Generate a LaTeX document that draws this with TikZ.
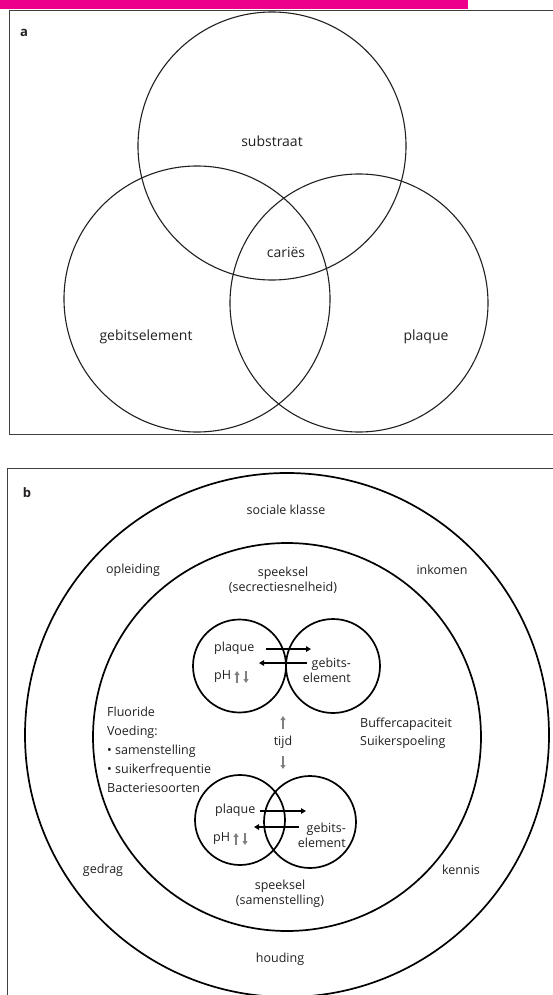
\documentclass[tikz,border=0pt]{standalone}
\usepackage{fontspec}
\setmainfont{Open Sans}
\usetikzlibrary{arrows.meta}
\definecolor{pinkbar}{RGB}{236,0,140}
\definecolor{ink}{RGB}{35,31,32}
\begin{document}
\begin{tikzpicture}[x=1pt,y=-1pt,
  frame/.style={draw=black!75, line width=0.9pt},
  venn/.style={draw=ink, line width=1.1pt, circle, inner sep=0pt, outer sep=0pt},
  ring/.style={draw=black, line width=1.7pt, circle, inner sep=0pt, outer sep=0pt},
  lbla/.style={font=\fontsize{14}{16}\selectfont, text=ink, inner sep=0pt},
  lblb/.style={font=\fontsize{12.5}{15}\selectfont, text=ink, inner sep=0pt, align=center},
  panel/.style={font=\bfseries\fontsize{13}{15}\selectfont, text=ink, inner sep=0pt},
  blk/.style={-{Triangle[length=5pt,width=5.5pt]}, line width=1.3pt, draw=black},
  gry/.style={-{Triangle[length=4pt,width=5pt]}, line width=1.3pt, draw=black!50},
]
\useasboundingbox (0,0) rectangle (553,995);
% top bar
\fill[pinkbar] (0,0) rectangle (468,9);
% ---------- panel a ----------
\draw[frame] (553,10) -- (9.5,10) -- (9.5,434) -- (553,434);
\node[panel] (la) at (24,33) {a};
\node[venn, minimum size=268pt] (csub) at (272,146) {};
\node[venn, minimum size=266pt] (cgeb) at (197,299) {};
\node[venn, minimum size=258pt] (cpla) at (359,303) {};
\node[lbla] (tsub) at (272,141) {substraat};
\node[lbla] (tcar) at (286,252) {cariës};
\node[lbla] (tgeb) at (146,337) {gebitselement};
\node[lbla] (tpla) at (426,337) {plaque};
% ---------- panel b ----------
\draw[frame] (553,468) -- (7.5,468) -- (7.5,995);
\node[panel] (lb) at (27,493) {b};
\node[ring, minimum size=524pt] (outer) at (287,735) {};
\node[ring, minimum size=388pt] (inner) at (287,737) {};
\node[lblb] (soc) at (286,510) {sociale klasse};
\node[lblb] (opl) at (133,570) {opleiding};
\node[lblb] (ink) at (442,570) {inkomen};
\node[lblb] (sp1) at (283,580) {speeksel\\(secrectiesnelheid)};
% upper pair
\node[ring, minimum size=93pt] (ul) at (239.5,666) {};
\node[ring, minimum size=94pt] (ur) at (333,666) {};
\node[lblb, anchor=west] (upl) at (214,648) {plaque};
\node[lblb, anchor=west] (uph) at (214,677) {pH};
\node[lblb, anchor=east, align=right] (uge) at (351,670) {gebits-\\element};
\coordinate (ua0) at (266,649);
\coordinate (ua1) at (311,649);
\coordinate (ub0) at (307,663);
\coordinate (ub1) at (259,663);
\draw[blk] (ua0) -- (ua1);
\draw[blk] (ub0) -- (ub1);
\coordinate (uu0) at (237,683);
\coordinate (uu1) at (237,671);
\coordinate (ud0) at (246,671);
\coordinate (ud1) at (246,683);
\draw[gry] (uu0) -- (uu1);
\draw[gry] (ud0) -- (ud1);
% side texts
\node[lblb, anchor=north west, align=left, font=\fontsize{12.5}{19}\selectfont] (left) at (107,707)
  {Fluoride\\Voeding:\\• samenstelling\\• suikerfrequentie\\Bacteriesoorten};
\node[lblb, anchor=west, align=left, font=\fontsize{12.5}{18}\selectfont] (right) at (360,733)
  {Buffercapaciteit\\Suikerspoeling};
\node[lblb] (tijd) at (283,742) {tijd};
\coordinate (tu0) at (283,729);
\coordinate (tu1) at (283,716);
\coordinate (td0) at (283,756);
\coordinate (td1) at (283,769);
\draw[gry] (tu0) -- (tu1);
\draw[gry] (td0) -- (td1);
% lower pair
\node[ring, minimum size=90pt] (ll) at (240,820) {};
\node[ring, minimum size=92pt] (lr) at (310,822) {};
\node[lblb, anchor=west] (lpl) at (215,810) {plaque};
\node[lblb, anchor=west] (lph) at (213,839) {pH};
\node[lblb, anchor=east, align=right] (lge) at (346,835) {gebits-\\element};
\coordinate (la0) at (260,811);
\coordinate (la1) at (306,811);
\coordinate (lb0) at (299,827);
\coordinate (lb1) at (254,827);
\draw[blk] (la0) -- (la1);
\draw[blk] (lb0) -- (lb1);
\coordinate (lu0) at (236,845);
\coordinate (lu1) at (236,833);
\coordinate (ld0) at (245,833);
\coordinate (ld1) at (245,845);
\draw[gry] (lu0) -- (lu1);
\draw[gry] (ld0) -- (ld1);
% bottom texts
\node[lblb] (ged) at (103,870) {gedrag};
\node[lblb] (ken) at (461,870) {kennis};
\node[lblb] (sp2) at (280,894) {speeksel\\(samenstelling)};
\node[lblb] (hou) at (280,959) {houding};
\end{tikzpicture}
\end{document}
